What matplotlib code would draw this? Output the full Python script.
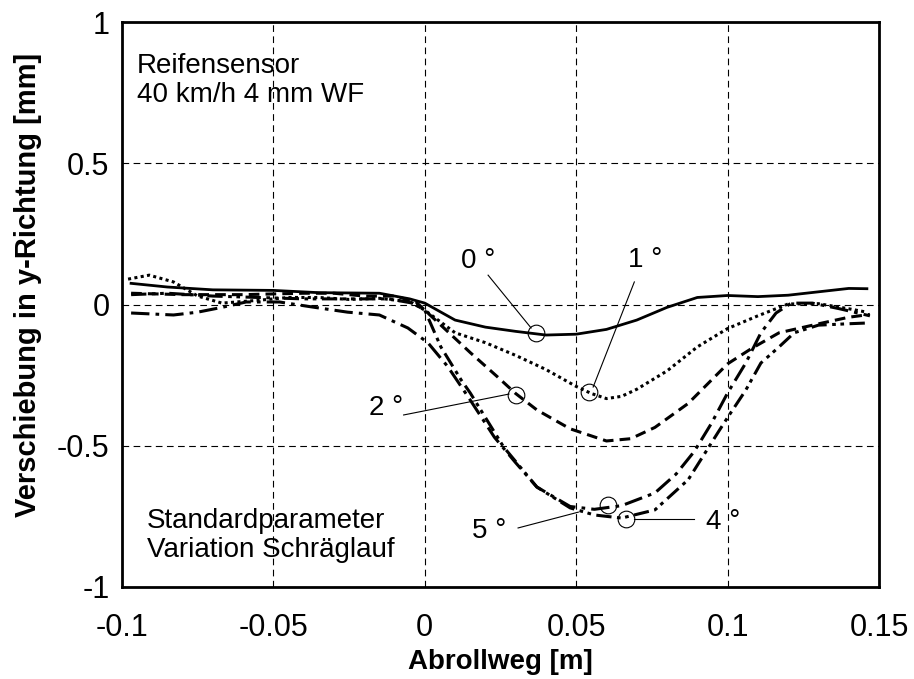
import matplotlib
matplotlib.use("Agg")
import matplotlib.pyplot as plt

plt.rcParams['font.family'] = ['Liberation Sans', 'DejaVu Sans']
plt.rcParams['axes.unicode_minus'] = False

# 0 deg (solid)
x_0 = [-0.097, -0.085, -0.07, -0.05, -0.035, -0.015, -0.005, 0.0, 0.01, 0.02,
       0.03, 0.04, 0.05, 0.06, 0.07, 0.08, 0.09, 0.1, 0.11, 0.12, 0.13, 0.14, 0.146]
y_0 = [0.075, 0.062, 0.052, 0.05, 0.042, 0.04, 0.02, 0.005, -0.055, -0.08,
       -0.095, -0.108, -0.105, -0.088, -0.055, -0.01, 0.025, 0.032, 0.028, 0.033,
       0.045, 0.057, 0.056]

# 1 deg (dotted)
x_1 = [-0.098, -0.091, -0.083, -0.075, -0.067, -0.055, -0.045, -0.035, -0.025,
       -0.015, -0.005, 0.0, 0.01, 0.02, 0.03, 0.04, 0.05, 0.055, 0.06, 0.065,
       0.07, 0.08, 0.09, 0.1, 0.11, 0.12, 0.13, 0.14, 0.146]
y_1 = [0.09, 0.104, 0.08, 0.03, 0.005, 0.015, 0.025, 0.025, 0.018,
       0.022, 0.01, -0.02, -0.1, -0.135, -0.18, -0.23, -0.29, -0.315, -0.333, -0.325,
       -0.30, -0.235, -0.15, -0.085, -0.04, 0.002, 0.003, -0.015, -0.027]

# 2 deg (dashed)
x_2 = [-0.097, -0.08, -0.06, -0.04, -0.03, -0.02, -0.01, -0.003, 0.0, 0.006,
       0.015, 0.024, 0.03, 0.037, 0.048, 0.06, 0.068, 0.076, 0.087, 0.1, 0.108,
       0.117, 0.124, 0.131, 0.14, 0.147]
y_2 = [0.04, 0.035, 0.035, 0.04, 0.04, 0.03, 0.03, 0.01, -0.02, -0.08,
       -0.17, -0.256, -0.315, -0.373, -0.44, -0.483, -0.475, -0.435, -0.35, -0.21, -0.155,
       -0.1, -0.083, -0.066, -0.045, -0.035]

# 4 deg (dash-dot-dot)
x_4 = [-0.097, -0.085, -0.07, -0.055, -0.04, -0.025, -0.012, -0.004, 0.0, 0.0053,
       0.012, 0.015, 0.026, 0.037, 0.048, 0.056, 0.065, 0.076, 0.087, 0.097, 0.1,
       0.106, 0.111, 0.117, 0.122, 0.13, 0.14, 0.147]
y_4 = [0.035, 0.04, 0.03, 0.025, 0.02, 0.02, 0.02, 0.005, -0.02, -0.15,
       -0.267, -0.313, -0.504, -0.646, -0.72, -0.745, -0.756, -0.727, -0.62, -0.45, -0.4,
       -0.303, -0.207, -0.15, -0.1, -0.073, -0.068, -0.065]

# 5 deg (dash-dot)
x_5 = [-0.097, -0.083, -0.075, -0.067, -0.059, -0.048, -0.037, -0.0255, -0.015,
       -0.0056, 0.001, 0.0076, 0.015, 0.023, 0.03, 0.037, 0.048, 0.056, 0.065, 0.076,
       0.083, 0.089, 0.0947, 0.1, 0.106, 0.111, 0.116, 0.121, 0.128, 0.137, 0.147]
y_5 = [-0.03, -0.037, -0.027, -0.01, 0.009, 0.009, -0.009, -0.027, -0.037,
       -0.083, -0.135, -0.22, -0.338, -0.47, -0.56, -0.646, -0.715, -0.725, -0.712, -0.667,
       -0.6, -0.52, -0.42, -0.313, -0.207, -0.1, -0.03, 0.005, 0.005, -0.015, -0.04]

x_ticks = [-0.1, -0.05, 0, 0.05, 0.1, 0.15]
x_ticklabels = ["-0.1", "-0.05", "0", "0.05", "0.1", "0.15"]
y_ticks = [-1, -0.5, 0, 0.5, 1]
y_ticklabels = ["-1", "-0.5", "0", "0.5", "1"]

fig = plt.figure(figsize=(9.14, 6.79), dpi=100)
ax = fig.add_axes([0.1335, 0.1355, 0.8282, 0.832])

ax.plot(x_0, y_0, color='black', lw=2.0, ls='-')
ax.plot(x_1, y_1, color='black', lw=2.2, ls=(0, (1, 1.1)))
ax.plot(x_2, y_2, color='black', lw=2.2, ls=(0, (3.5, 2)))
ax.plot(x_4, y_4, color='black', lw=2.2, ls=(0, (5, 1.8, 1.2, 1.5, 1.2, 1.8)))
ax.plot(x_5, y_5, color='black', lw=2.2, ls=(0, (6, 2, 1.2, 2)))

# markers on curves
circles = [(0.0368, -0.1), (0.0543, -0.31), (0.030, -0.32), (0.0606, -0.71), (0.0666, -0.759)]
for cx, cy in circles:
    ax.plot(cx, cy, 'o', ms=12, mfc='none', mec='black', mew=0.8)

# leader lines
leaders = [((0.0209, 0.104), (0.0351, -0.083)),
           ((0.0692, 0.080), (0.0556, -0.292)),
           ((-0.007, -0.391), (0.0278, -0.317)),
           ((0.0308, -0.791), (0.0507, -0.735)),
           ((0.0692, -0.759), (0.089, -0.759))]
for (xa, ya), (xb, yb) in leaders:
    ax.plot([xa, xb], [ya, yb], color='black', lw=0.8)

fs = 20
ax.text(0.0119, 0.154, "0 °", fontsize=fs, va='center', ha='left')
ax.text(0.0672, 0.157, "1 °", fontsize=fs, va='center', ha='left')
ax.text(-0.0185, -0.366, "2 °", fontsize=fs, va='center', ha='left')
ax.text(0.0155, -0.80, "5 °", fontsize=fs, va='center', ha='left')
ax.text(0.093, -0.77, "4 °", fontsize=fs, va='center', ha='left')

ax.text(-0.095, 0.89, "Reifensensor\n40 km/h 4 mm WF", fontsize=fs, va='top', ha='left',
        linespacing=1.15)
ax.text(-0.0917, -0.72, "Standardparameter\nVariation Schräglauf", fontsize=fs,
        va='top', ha='left', linespacing=1.15)

ax.set_xlim(-0.1, 0.15)
ax.set_ylim(-1, 1)
ax.set_xticks(x_ticks)
ax.set_xticklabels(x_ticklabels)
ax.set_yticks(y_ticks)
ax.set_yticklabels(y_ticklabels)
ax.tick_params(axis='both', length=0, labelsize=22)
ax.tick_params(axis='x', pad=19)
ax.tick_params(axis='y', pad=9)
ax.grid(True, color='black', lw=0.8, ls=(0, (6, 4)))
for s in ax.spines.values():
    s.set_linewidth(2.0)

ax.set_xlabel("Abrollweg [m]", fontsize=20, fontweight='bold', labelpad=4)
ax.set_ylabel("Verschiebung in y-Richtung [mm]", fontsize=21, fontweight='bold')
ax.yaxis.set_label_coords(-0.106, 0.535)

fig.savefig("out.png", dpi=100)
